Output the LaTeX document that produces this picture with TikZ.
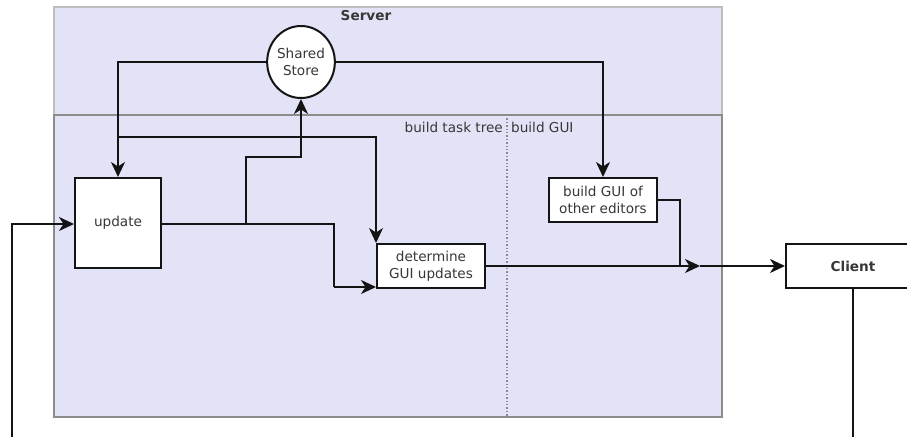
\documentclass[tikz,border=0pt]{standalone}
\usepackage{fontspec}
\setmainfont{DejaVu Sans}
\usetikzlibrary{arrows.meta,shapes.geometric}
\definecolor{lav}{RGB}{227,227,247}
\definecolor{lightframe}{RGB}{190,190,190}
\definecolor{darkframe}{RGB}{140,140,140}
\definecolor{ink}{RGB}{20,20,20}
\tikzset{
  lbl/.style={font=\fontsize{13.6}{17}\selectfont, align=center, inner sep=0pt, text=ink!85},
  box/.style={draw=ink, fill=white, line width=2pt, lbl},
  conn/.style={draw=ink, line width=2pt, line join=miter},
  arr/.style={conn, -{Stealth[length=15pt,width=14pt,inset=4.5pt]}},
}
\begin{document}
\begin{tikzpicture}[x=1pt,y=-1pt]
\useasboundingbox (0,0) rectangle (907,437);
% server region
\draw[fill=lav, draw=lightframe, line width=2pt] (54,7) rectangle (722,417);
\draw[draw=darkframe, line width=2pt] (54,115) rectangle (722,417);
\draw[darkframe, line width=1.4pt, dotted] (507,115) -- (507,417);
\node[lbl, font=\fontsize{13.6}{17}\selectfont\bfseries] (server) at (366,16) {Server};
\node[lbl, anchor=east] (ltree) at (503,127) {build task tree};
\node[lbl, anchor=west] (lgui) at (511,127) {build GUI};
% nodes
\node[box, ellipse, minimum width=66pt, minimum height=72pt] (store) at (301,62) {Shared\\Store};
\node[box, minimum width=86pt, minimum height=90pt] (update) at (118,223) {update};
\node[box, minimum width=108pt, minimum height=44pt] (det) at (431,266) {determine\\GUI updates};
\node[box, minimum width=108pt, minimum height=44pt] (bgui) at (603,200) {build GUI of\\other editors};
\node[box, minimum width=134pt, minimum height=44pt, font=\fontsize{13.6}{17}\selectfont\bfseries] (client) at (853,266) {Client};
% coordinates
\coordinate (leftbot) at (12,437);
\coordinate (clientbot) at (client.south |- 0,437);
\coordinate (merge) at (700,266);
\coordinate (split) at (246,224);
% connectors
\draw[arr] (store.west) -| (update.north);
\draw[arr] (store.east) -| (bgui.north);
\draw[arr] (118,137) -| (det.north west);
\draw[conn] (update.east |- split) -- (334,224) -- (334,287);
\draw[arr] (334,287) -- (det.west |- 0,287);
\draw[arr] (split) -- (246,157) -| (store.south);
\draw[arr] (det.east) -- (merge);
\draw[conn] (bgui.east) -| (680,266);
\draw[arr] (merge) -- (client.west);
\draw[arr] (leftbot) |- (update.west |- 0,224);
\draw[conn] (client.south) -- (clientbot);
\end{tikzpicture}
\end{document}
